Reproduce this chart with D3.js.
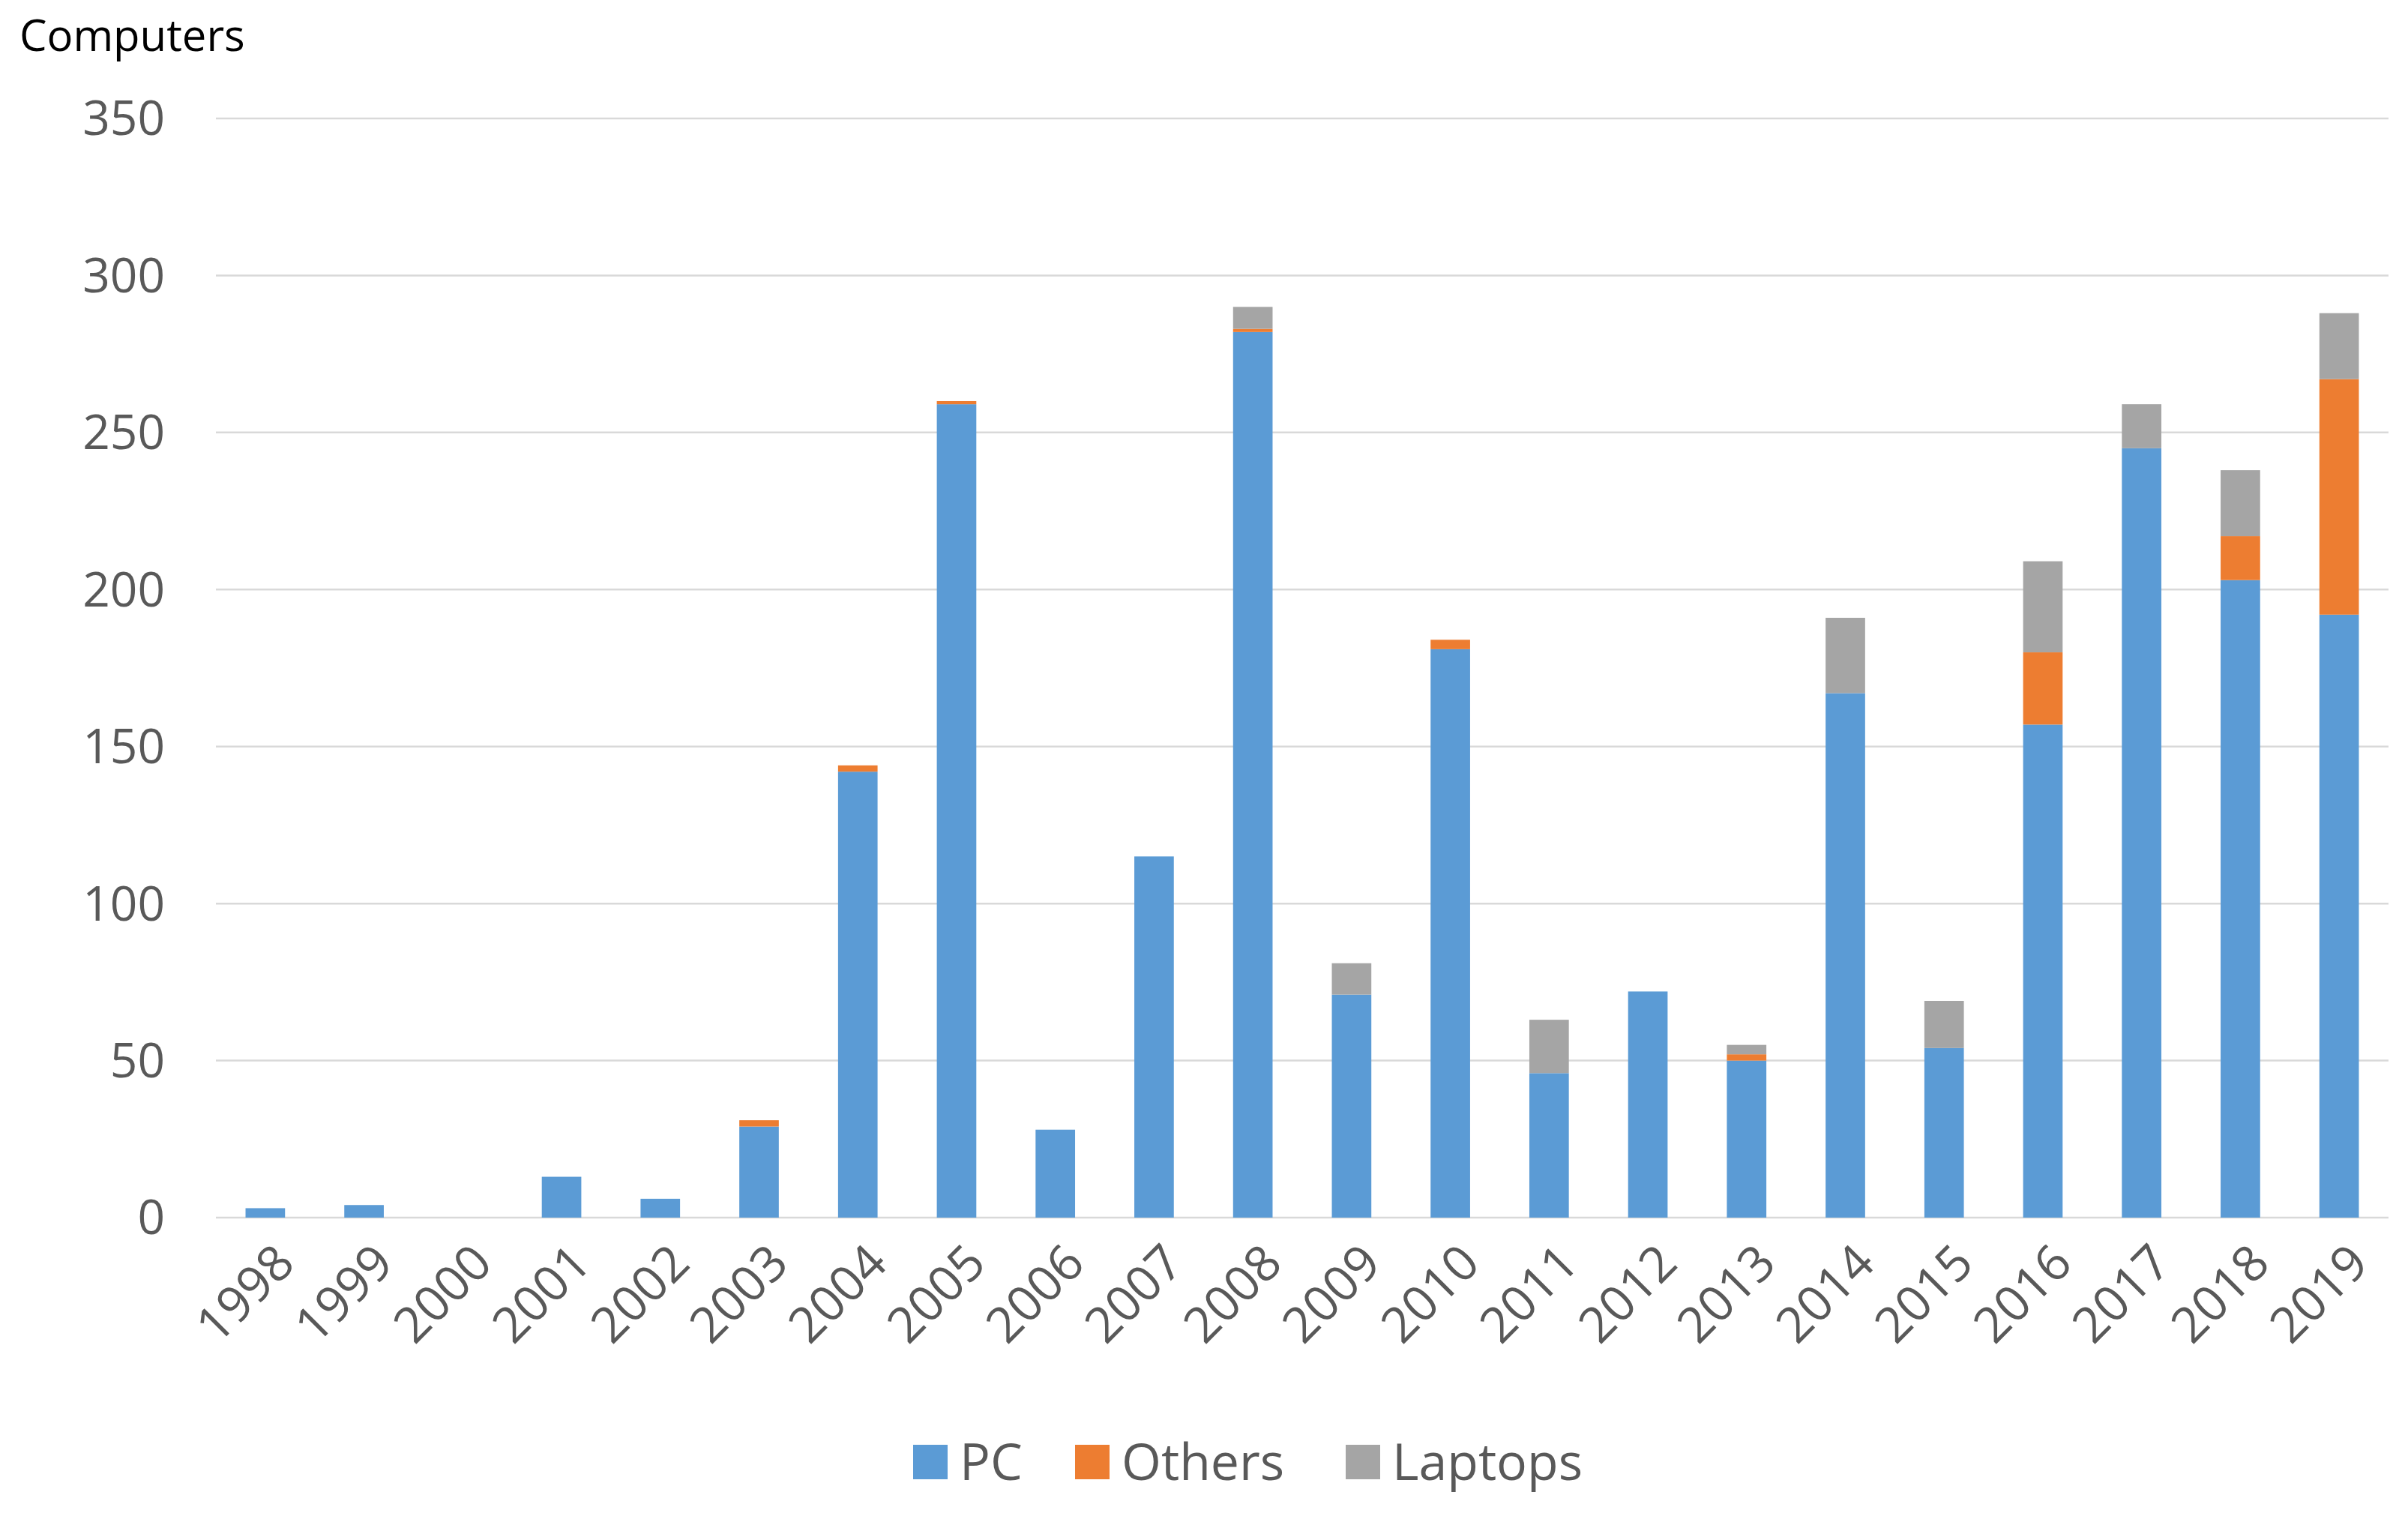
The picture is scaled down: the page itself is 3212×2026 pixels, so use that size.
<!DOCTYPE html>
<html>
<head>
<meta charset="utf-8">
<script src="https://cdn.jsdelivr.net/npm/d3@7"></script>
<style>
  body { margin: 0; background: #fff; }
  text { font-family: "Open Sans", sans-serif; }
</style>
</head>
<body>
<div id="chart"></div>
<script>
// data
var years = ["1998","1999","2000","2001","2002","2003","2004","2005","2006","2007","2008",
             "2009","2010","2011","2012","2013","2014","2015","2016","2017","2018","2019"];
var pc      = [3, 4, 0, 13, 6, 29, 142, 259, 28, 115, 282, 71, 181, 46, 72, 50, 167, 54, 157, 245, 203, 192];
var others  = [0, 0, 0, 0, 0, 2, 2, 1, 0, 0, 1, 0, 3, 0, 0, 2, 0, 0, 23, 0, 14, 75];
var laptops = [0, 0, 0, 0, 0, 0, 0, 0, 0, 0, 7, 10, 0, 17, 0, 3, 24, 15, 29, 14, 21, 21];
var seriesNames = ["PC", "Others", "Laptops"];
var seriesColors = ["#5b9bd5", "#ed7d31", "#a5a5a5"];
var yTicks = [0, 50, 100, 150, 200, 250, 300, 350];

var width = 3212, height = 2026;

var svg = d3.select("#chart")
    .append("svg")
    .attr("width", width)
    .attr("height", height);

var rows = years.map(function (y, i) {
    return { year: y, PC: pc[i], Others: others[i], Laptops: laptops[i] };
});

var x = d3.scaleBand()
    .domain(years)
    .range([288, 3186])
    .paddingInner(0.6)
    .paddingOuter(0.3);

var y = d3.scaleLinear()
    .domain([0, 350])
    .range([1624, 158]);

var color = d3.scaleOrdinal().domain(seriesNames).range(seriesColors);

// gridlines
svg.selectAll("line.grid")
    .data(yTicks)
    .enter()
    .append("line")
    .attr("x1", 288)
    .attr("x2", 3186)
    .attr("y1", function (d) { return y(d); })
    .attr("y2", function (d) { return y(d); })
    .style("stroke", "#d9d9d9")
    .style("stroke-width", 2.5);

// y tick labels
svg.selectAll("text.ytick")
    .data(yTicks)
    .enter()
    .append("text")
    .attr("x", 220)
    .attr("y", function (d) { return y(d); })
    .attr("dy", "0.35em")
    .attr("text-anchor", "end")
    .attr("font-size", "64px")
    .attr("fill", "#595959")
    .text(function (d) { return d; });

// stacked bars
var stacked = d3.stack().keys(seriesNames)(rows);

svg.selectAll("g.series")
    .data(stacked)
    .enter()
    .append("g")
    .style("fill", function (d) { return color(d.key); })
    .selectAll("rect")
    .data(function (d) { return d; })
    .enter()
    .append("rect")
    .attr("x", function (d) { return x(d.data.year); })
    .attr("width", x.bandwidth())
    .attr("y", function (d) { return y(d[1]); })
    .attr("height", function (d) { return y(d[0]) - y(d[1]); });

// x tick labels, rotated
svg.selectAll("text.xtick")
    .data(years)
    .enter()
    .append("text")
    .attr("transform", function (d) {
        return "translate(" + (x(d) + x.bandwidth() / 2 + 26) + ",1672) rotate(-45)";
    })
    .attr("text-anchor", "end")
    .attr("dy", "0.35em")
    .attr("font-size", "66px")
    .attr("fill", "#595959")
    .text(function (d) { return d; });

// axis title
svg.append("text")
    .attr("x", 26)
    .attr("y", 68)
    .attr("font-size", "58px")
    .attr("fill", "#000")
    .text("Computers");

// legend
var legendX = [1218, 1434, 1795];
var legend = svg.selectAll("g.legend")
    .data(seriesNames)
    .enter()
    .append("g")
    .attr("transform", function (d, i) { return "translate(" + legendX[i] + ",1950)"; });

legend.append("rect")
    .attr("x", 0)
    .attr("y", -23)
    .attr("width", 46)
    .attr("height", 46)
    .style("fill", function (d) { return color(d); });

legend.append("text")
    .attr("x", 62)
    .attr("y", 0)
    .attr("dy", "0.35em")
    .attr("font-size", "68px")
    .attr("fill", "#595959")
    .text(function (d) { return d; });
</script>
</body>
</html>
